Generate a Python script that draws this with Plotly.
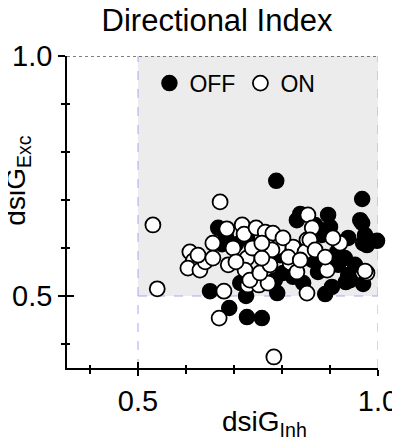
import plotly.graph_objects as go

# OFF cells (filled)
off_inh = [0.788, 0.967, 0.690, 0.727, 0.758, 0.650, 0.725, 0.790, 0.890, 0.904,
           0.933, 0.969, 0.838, 0.896, 0.967, 0.973, 0.998, 0.977, 0.938, 0.667,
           0.683, 0.704, 0.831, 0.727, 0.802, 0.744, 0.785, 0.823, 0.900, 0.883,
           0.963, 0.969, 0.917, 0.938, 0.915, 0.890, 0.875, 0.942, 0.869, 0.827,
           0.952, 0.765, 0.844, 0.796, 0.863, 0.713, 0.675, 0.931]
off_exc = [0.740, 0.702, 0.475, 0.456, 0.454, 0.510, 0.500, 0.506, 0.504, 0.519,
           0.529, 0.525, 0.671, 0.669, 0.652, 0.627, 0.615, 0.606, 0.621, 0.642,
           0.625, 0.608, 0.658, 0.621, 0.548, 0.527, 0.533, 0.540, 0.644, 0.627,
           0.658, 0.610, 0.565, 0.544, 0.592, 0.569, 0.550, 0.533, 0.648, 0.571,
           0.565, 0.571, 0.527, 0.585, 0.575, 0.527, 0.608, 0.579]

# ON cells (open)
on_inh = [0.531, 0.540, 0.783, 0.671, 0.669, 0.679, 0.729, 0.752, 0.771, 0.852,
          0.977, 0.854, 0.921, 0.973, 0.894, 0.608, 0.615, 0.604, 0.629, 0.640,
          0.625, 0.656, 0.685, 0.717, 0.721, 0.698, 0.727, 0.688, 0.723, 0.738,
          0.733, 0.746, 0.765, 0.781, 0.792, 0.779, 0.823, 0.852, 0.848, 0.754,
          0.775, 0.817, 0.831, 0.813, 0.758, 0.863, 0.858, 0.906, 0.869, 0.890,
          0.802, 0.838, 0.704, 0.656, 0.758]
on_exc = [0.648, 0.515, 0.373, 0.696, 0.454, 0.510, 0.523, 0.523, 0.527, 0.506,
          0.548, 0.669, 0.610, 0.552, 0.554, 0.592, 0.573, 0.558, 0.554, 0.571,
          0.585, 0.610, 0.640, 0.648, 0.629, 0.600, 0.579, 0.565, 0.554, 0.600,
          0.533, 0.642, 0.633, 0.631, 0.602, 0.596, 0.602, 0.617, 0.592, 0.548,
          0.565, 0.569, 0.550, 0.581, 0.579, 0.642, 0.617, 0.621, 0.596, 0.581,
          0.621, 0.575, 0.571, 0.579, 0.610]

font = "Liberation Sans, Arial, sans-serif"

fig = go.Figure()

fig.add_trace(go.Scatter(x=off_inh, y=off_exc, mode="markers", name="OFF",
                         cliponaxis=False,
                         marker=dict(size=15, color="black",
                                     line=dict(color="black", width=1.5))))
fig.add_trace(go.Scatter(x=on_inh, y=on_exc, mode="markers", name="ON",
                         cliponaxis=False,
                         marker=dict(size=15, color="white",
                                     line=dict(color="black", width=1.8))))

# shaded quadrant and reference lines
fig.add_shape(type="rect", x0=0.5, x1=1.0, y0=0.5, y1=1.0, layer="below",
              fillcolor="#ececec", line=dict(width=0))
lav = dict(color="#a8a8f0", width=1, dash="dash")
fig.add_shape(type="line", x0=0.5, x1=0.5, y0=0.35, y1=1.0, layer="below", line=lav)
fig.add_shape(type="line", x0=1.0, x1=1.0, y0=0.35, y1=1.0, layer="below", line=lav)
fig.add_shape(type="line", x0=0.5, x1=1.0, y0=0.5, y1=0.5, layer="below", line=lav)
fig.add_shape(type="line", x0=0.352, x1=1.0, y0=1.0, y1=1.0, layer="below",
              line=dict(color="black", width=1.2, dash="dot"))

axis_common = dict(showgrid=False, zeroline=False, showline=True,
                   linecolor="black", linewidth=1.5, automargin=False,
                   tickcolor="black", tickwidth=1.5,
                   tickfont=dict(family=font, size=29, color="black"))

minor_vals = [0.4, 0.6, 0.7, 0.8, 0.9]

fig.update_layout(
    width=400, height=438,
    margin=dict(l=59, r=30, t=48, b=78),
    plot_bgcolor="white", paper_bgcolor="white",
    title=dict(text="Directional Index", x=0.5225, xanchor="center",
               y=0.972, yanchor="middle",
               font=dict(family=font, size=31, color="black")),
    xaxis=dict(range=[0.352, 1.0], tickvals=[0.5, 1.0], ticktext=["0.5", "1.0"],
               ticks="outside", ticklen=6,
               minor=dict(tickvals=minor_vals, ticks="outside",
                          ticklen=4, tickcolor="black", tickwidth=1.5),
               **axis_common),
    yaxis=dict(range=[0.35, 1.0], tickvals=[0.5, 1.0], ticktext=["0.5", "1.0"],
               ticks="outside", ticklen=7,
               minor=dict(tickvals=minor_vals, ticks="outside",
                          ticklen=4, tickcolor="black", tickwidth=1.5),
               **axis_common),
    xaxis2=dict(overlaying="x", matches="x", range=[0.352, 1.0], showgrid=False,
                zeroline=False, showticklabels=False, side="bottom", automargin=False,
                tickvals=[0.5, 1.0], ticks="inside", ticklen=6,
                tickcolor="black", tickwidth=1.5,
                minor=dict(tickvals=minor_vals, ticks="inside",
                           ticklen=3, tickcolor="black", tickwidth=1.5)),
    yaxis2=dict(overlaying="y", matches="y", range=[0.35, 1.0], showgrid=False,
                zeroline=False, showticklabels=False, side="left", automargin=False,
                tickvals=[0.5, 1.0], ticks="inside", ticklen=7,
                tickcolor="black", tickwidth=1.5,
                minor=dict(tickvals=minor_vals, ticks="inside",
                           ticklen=3, tickcolor="black", tickwidth=1.5)),
    showlegend=True,
    legend=dict(orientation="h", x=0.265, y=0.913, xanchor="left", yanchor="middle",
                bgcolor="rgba(0,0,0,0)", itemwidth=30,
                font=dict(family=font, size=23, color="black")),
    annotations=[
        dict(text="dsiG<sub>Inh</sub>", xref="paper", yref="paper",
             x=0.635, y=-0.178, xanchor="center", yanchor="middle",
             showarrow=False, font=dict(family=font, size=28, color="black")),
        dict(text="dsiG<sub>Exc</sub>", xref="paper", yref="paper",
             x=-0.158, y=0.60, xanchor="center", yanchor="middle", textangle=-90,
             showarrow=False, font=dict(family=font, size=28, color="black")),
    ],
)

# invisible trace to activate the inner tick axes
fig.add_trace(go.Scatter(x=[0.5], y=[0.5], xaxis="x2", yaxis="y2", mode="markers",
                         marker=dict(opacity=0), showlegend=False, hoverinfo="skip"))

fig.write_html("out.html")
